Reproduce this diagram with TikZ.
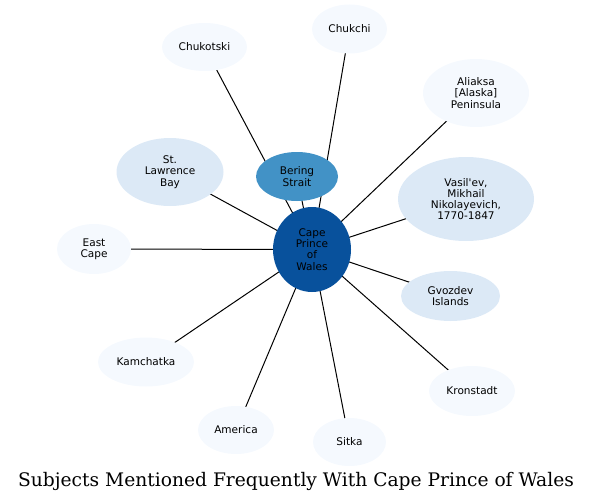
\documentclass[tikz,border=0pt]{standalone}
\usepackage{fontspec}
\setmainfont{DejaVu Serif}
\setsansfont{DejaVu Sans}
\usepackage{xcolor}
\usepackage{tikz}
\usetikzlibrary{shapes.geometric, backgrounds}
\definecolor{mypale}{RGB}{245,249,254}
\definecolor{mylight}{RGB}{220,233,246}
\definecolor{mymid}{RGB}{66,146,198}
\definecolor{mydeep}{RGB}{8,81,156}
\tikzset{
  subj/.style={ellipse, draw=none, fill=mypale, inner sep=0pt,
    align=center, font=\sffamily\fontsize{7.9}{8.4}\selectfont},
  subjlight/.style={subj, fill=mylight},
  hub/.style={subj, fill=mydeep},
  link/.style={line width=0.75pt, color=black}
}

\begin{document}
\begin{tikzpicture}[x=0.75pt, y=-0.75pt]
  \useasboundingbox (0,0) rectangle (592,503);
  % Hub
  \node[hub, minimum width=58.5pt, minimum height=63.75pt] (cpw) at (312,249.5) {Cape\\Prince\\of\\Wales};
  % Surrounding subjects
  \node[subj, fill=mymid, minimum width=61.5pt, minimum height=36.75pt] (bering) at (297,176.5) {Bering\\Strait};
  \node[subj, minimum width=63.75pt, minimum height=36pt] (chukotski) at (204.5,47) {Chukotski};
  \node[subj, minimum width=56.25pt, minimum height=36.75pt] (chukchi) at (349.5,29) {Chukchi};
  \node[subj, minimum width=79.5pt, minimum height=51pt] (aliaksa) at (476,93) {Aliaksa\\{[}Alaska{]}\\Peninsula};
  \node[subjlight, minimum width=80.25pt, minimum height=51pt] (lawrence) at (170,172) {St.\\Lawrence\\Bay};
  \node[subjlight, minimum width=102pt, minimum height=63pt] (vasilev) at (466,199) {Vasil\textquotesingle ev,\\Mikhail\\Nikolayevich,\\1770-1847};
  \node[subj, minimum width=55.5pt, minimum height=37.5pt] (eastcape) at (94,249) {East\\Cape};
  \node[subjlight, minimum width=74.25pt, minimum height=37.5pt] (gvozdev) at (450.5,296) {Gvozdev\\Islands};
  \node[subj, minimum width=72pt, minimum height=36.75pt] (kamchatka) at (146,362) {Kamchatka};
  \node[subj, minimum width=64.5pt, minimum height=37.5pt] (kronstadt) at (472,391) {Kronstadt};
  \node[subj, minimum width=57pt, minimum height=36pt] (america) at (236,430) {America};
  \node[subj, minimum width=54.75pt, minimum height=36pt] (sitka) at (349.5,442) {Sitka};
  % Links behind the nodes
  \begin{pgfonlayer}{background}
    \foreach \n in {bering, chukotski, chukchi, aliaksa, lawrence, vasilev,
      eastcape, gvozdev, kamchatka, kronstadt, america, sitka}
      \draw[link] (cpw.center) -- (\n.center);
  \end{pgfonlayer}
  % Title
  \node[font=\fontsize{14}{16}\selectfont] (title) at (296,481) {Subjects Mentioned Frequently With Cape Prince of Wales};
\end{tikzpicture}
\end{document}
